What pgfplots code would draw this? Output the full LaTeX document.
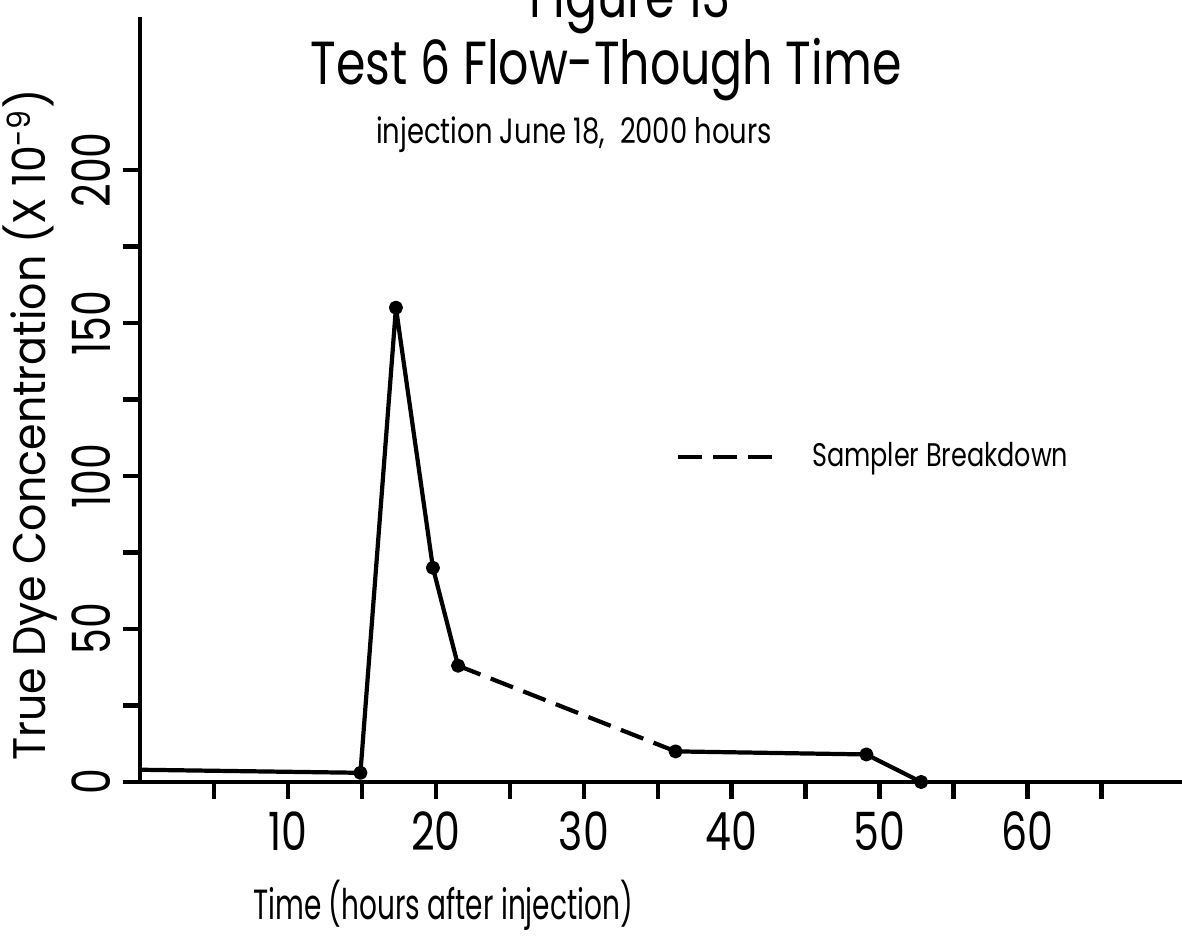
\documentclass[border=0pt]{standalone}
\usepackage{fontspec}
\setmainfont{Poppins}[FakeStretch=0.78]
\usepackage{pgfplots}
\pgfplotsset{compat=1.18}
\begin{document}
\begin{tikzpicture}
\useasboundingbox (0,0) rectangle (11.82,9.44);
\begin{axis}[
  at={(1.40cm,1.62cm)}, anchor=south west,
  scale only axis, width=10.43cm, height=7.65cm,
  xmin=0, xmax=70.5, ymin=0, ymax=250,
  axis lines=left,
  axis line style={-, line width=1.3pt},
  xtick={5,10,...,65}, xticklabels={,10,,20,,30,,40,,50,,60,},
  ytick={0,25,...,200}, yticklabels={0,,50,,100,,150,,200},
  tick align=outside, major tick length=1.7mm,
  tick style={line width=1.3pt, black},
  x tick label style={font=\fontsize{15}{16}\selectfont},
  y tick label style={font=\fontsize{15}{16}\selectfont, rotate=90, anchor=south},
  /pgf/number format/assume math mode=true,
  clip=false,
  legend style={at={(0.503,0.425)}, anchor=west, draw=none, fill=none,
    font=\fontsize{9.3}{11}\selectfont},
  legend cell align=left,
]
\addplot[black, line width=1.2pt, line join=round, mark=*, mark size=1.4pt, mark indices={2,3,4,5}, forget plot]
  coordinates {(0,4) (14.9,3) (17.3,155) (19.8,70) (21.5,38)};
\addplot[black, line width=1.2pt, dash pattern=on 2.4mm off 1.1mm,
  legend image code/.code={\draw[black, line width=1.2pt, dash pattern=on 2.4mm off 1.1mm] (0cm,0cm) -- (1.0cm,0cm); \path (1.25cm,0cm);}]
  coordinates {(21.5,38) (36.2,10)};
\addlegendentry{Sampler Breakdown}
\addplot[black, line width=1.2pt, line join=round, mark=*, mark size=1.4pt, forget plot]
  coordinates {(36.2,10) (49.1,9) (52.8,0)};
\end{axis}
\node[anchor=base, font=\fontsize{17.3}{20}\selectfont] at (6.30,9.26) {Figure 13};
\node[font=\fontsize{17.3}{20}\selectfont] at (6.06,8.74) {Test 6 Flow-Though Time};
\node[font=\fontsize{10}{12}\selectfont] at (5.74,8.09) {injection June 18, \ 2000 hours};
\node[font=\fontsize{12}{14}\selectfont] at (4.43,0.39) {\scalebox{0.85}[1]{Time (hours after injection)}};
\node[rotate=90, font=\fontsize{13}{15}\selectfont] at (0.30,5.19) {\scalebox{1.2}[1]{True Dye Concentration (X 10\textsuperscript{-9})}};
\end{tikzpicture}
\end{document}
